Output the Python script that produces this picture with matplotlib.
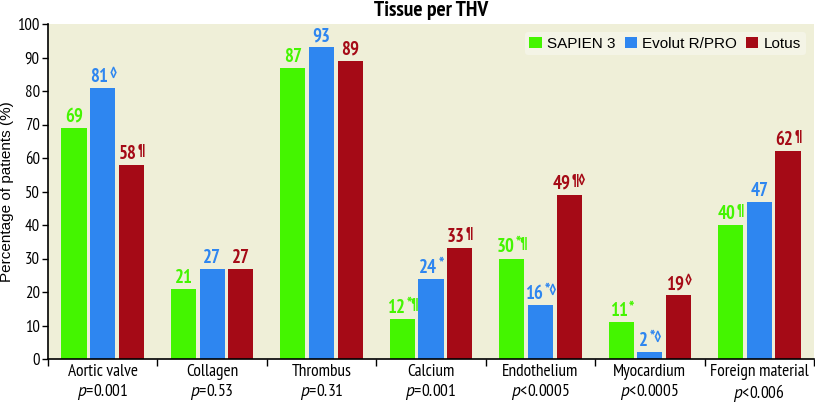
import matplotlib
matplotlib.use("Agg")
import matplotlib.pyplot as plt
import matplotlib.transforms as mtransforms
from matplotlib.patches import Patch
import numpy as np

categories = ["Aortic valve", "Collagen", "Thrombus", "Calcium", "Endothelium", "Myocardium", "Foreign material"]
pvalues = ["$p$=0.001", "$p$=0.53", "$p$=0.31", "$p$=0.001", "$p$<0.0005", "$p$<0.0005", "$p$<0.006"]
series_names = ["SAPIEN 3", "Evolut R/PRO", "Lotus"]
sapien = [69, 21, 87, 12, 30, 11, 40]
evolut = [81, 27, 93, 24, 16, 2, 47]
lotus = [58, 27, 89, 33, 49, 19, 62]
sapien_marks = ["", "", "", "*¶", "*¶", "*", "¶"]
evolut_marks = ["◊", "", "", "*", "*◊", "*◊", ""]
lotus_marks = ["¶", "", "", "¶", "¶◊", "◊", "¶"]
yticks = [0, 10, 20, 30, 40, 50, 60, 70, 80, 90, 100]

colors = ["#44F500", "#2E86F0", "#A50A16"]
bg = "#EFEFD8"
NARROW = ["PT Sans Narrow", "DejaVu Sans"]
REG = ["Liberation Sans", "DejaVu Sans"]

plt.rcParams["mathtext.fontset"] = "custom"
plt.rcParams["mathtext.it"] = "PT Sans:italic"
plt.rcParams["mathtext.rm"] = "PT Sans Narrow"

fig = plt.figure(figsize=(8.15, 4.03), dpi=100)
ax = fig.add_axes([48 / 815, 1 - 359 / 403, 766 / 815, 335 / 403])
ax.set_facecolor(bg)

x = np.arange(len(categories))
w = 0.23
off = 0.262
data = [sapien, evolut, lotus]
marks = [sapien_marks, evolut_marks, lotus_marks]
for i, (vals, c) in enumerate(zip(data, colors)):
    ax.bar(x + (i - 1) * off, vals, width=w, color=c, zorder=2)

ax.set_xlim(-0.5, 6.5)
ax.set_ylim(0, 100)
ax.set_yticks(yticks)
ax.set_yticklabels([str(t) for t in yticks], family=NARROW, fontsize=12)
ax.set_xticks(np.arange(-0.5, 7, 1.0))
ax.set_xticklabels([])
ax.tick_params(axis="x", length=5, width=1, direction="out")
ax.tick_params(axis="y", length=4, width=1, direction="out", pad=2)
for s in ["top", "right"]:
    ax.spines[s].set_visible(False)
ax.spines["left"].set_linewidth(1.2)
ax.spines["bottom"].set_linewidth(1.2)

for xi, (cat, pv) in enumerate(zip(categories, pvalues)):
    ax.text(xi, -0.015, cat, transform=ax.get_xaxis_transform(), ha="center", va="top",
            family=NARROW, fontsize=12.5)
    ax.text(xi, -0.068, pv, transform=ax.get_xaxis_transform(), ha="center", va="top",
            family=NARROW, fontsize=12.5)

ax.set_ylabel("Percentage of patients (%)", family=REG, fontsize=11)
ax.yaxis.set_label_coords(-0.045, 0.5)
fig.text(431 / 815, 1 - 11 / 403, "Tissue per THV", ha="center", va="center",
         family=NARROW, fontsize=15.5, fontweight="bold")

handles = [Patch(facecolor=c, edgecolor="none") for c in colors]
leg = ax.legend(handles, series_names, loc="upper right", bbox_to_anchor=(0.993, 0.985),
                ncol=3, frameon=True, prop={"family": REG, "size": 11},
                handlelength=0.8, handleheight=0.8, handletextpad=0.35, columnspacing=0.6,
                borderpad=0.3, borderaxespad=0.2)
leg.get_frame().set_facecolor("#F4F4E6")
leg.get_frame().set_edgecolor("none")
leg.get_frame().set_alpha(1)

fig.canvas.draw()
renderer = fig.canvas.get_renderer()
for i in range(3):
    for xi in range(len(categories)):
        v = data[i][xi]
        xc = xi + (i - 1) * off
        t1 = ax.text(xc, v, str(v), ha="left", va="bottom", color=colors[i],
                     family=NARROW, fontsize=13.5, fontweight="bold")
        w1 = t1.get_window_extent(renderer).width
        m = marks[i][xi]
        w2 = 0
        if m:
            t2 = ax.text(xc, v, m, ha="left", va="bottom", color=colors[i],
                         family=NARROW, fontsize=11.5, fontweight="bold")
            w2 = t2.get_window_extent(renderer).width
        total = w1 + w2
        t1.set_transform(mtransforms.offset_copy(ax.transData, fig=fig, x=-total / 2, y=2, units="dots"))
        if m:
            t2.set_transform(mtransforms.offset_copy(ax.transData, fig=fig, x=-total / 2 + w1 + 1, y=7, units="dots"))

fig.savefig("out.png", dpi=100)
